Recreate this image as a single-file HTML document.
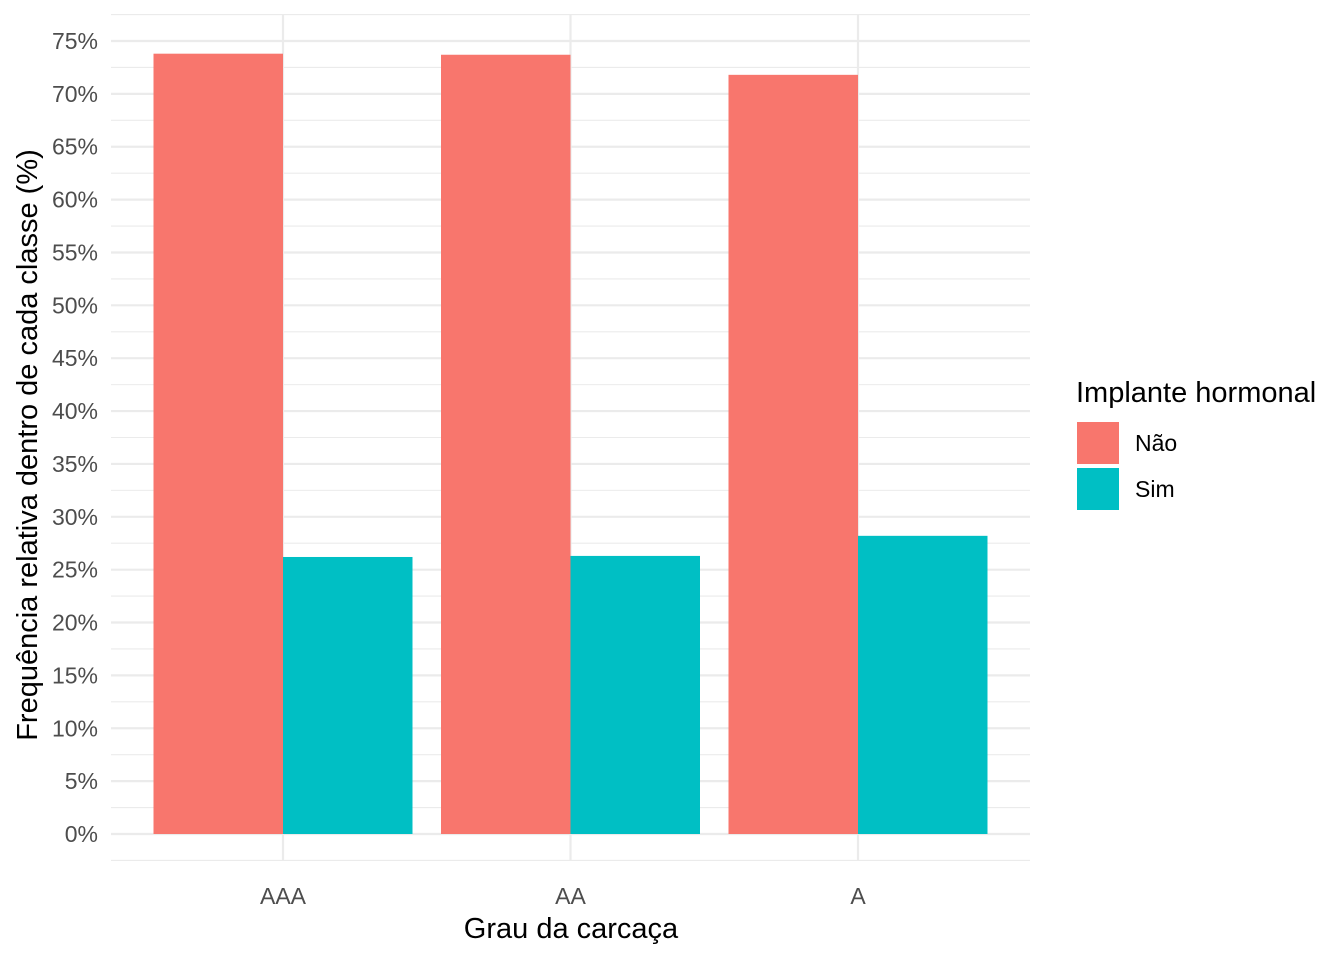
<!DOCTYPE html>
<html><head><meta charset="utf-8"><style>
html,body{margin:0;padding:0;background:#fff;}
svg text{font-family:"Liberation Sans",sans-serif;}
</style></head><body>
<svg id="chart" width="1344" height="960" xmlns="http://www.w3.org/2000/svg">
<g id="grid"></g><g id="bars"></g><g id="labels"></g>
<text x="571" y="938" font-size="29" text-anchor="middle" fill="#000">Grau da carcaça</text>
<text transform="translate(37,445) rotate(-90)" font-size="29" text-anchor="middle" fill="#000">Frequência relativa dentro de cada classe (%)</text>
<g>
<text x="1076" y="402" font-size="29" fill="#000">Implante hormonal</text>
<rect x="1077" y="422" width="42" height="42" fill="#F8766D"/>
<text x="1135" y="451" font-size="23" fill="#000">Não</text>
<rect x="1077" y="468" width="42" height="42" fill="#00BFC4"/>
<text x="1135" y="497" font-size="23" fill="#000">Sim</text>
</g>
</svg>
<script>
const categories = ["AAA","AA","A"];
const naoValues = [73.8, 73.7, 71.8];
const simValues = [26.2, 26.3, 28.2];
const yTicks = [0,5,10,15,20,25,30,35,40,45,50,55,60,65,70,75];
const NS="http://www.w3.org/2000/svg";
const y = v => 834 - v*(834-41)/75;
const x = i => 283 + i*287.5;
const bw = 129.5;
function mk(tag, attrs, parent){const e=document.createElementNS(NS,tag);for(const k in attrs)e.setAttribute(k,attrs[k]);parent.appendChild(e);return e;}
const grid=document.getElementById('grid'), bars=document.getElementById('bars'), labels=document.getElementById('labels');
for(let v=-2.5; v<=77.5; v+=5){
  const l=mk('line',{x1:111,x2:1030,y1:y(v),y2:y(v),stroke:'#ebebeb','stroke-width':1.1},grid);
  
  
}
yTicks.forEach(v=>{
  const l=mk('line',{x1:111,x2:1030,y1:y(v),y2:y(v),stroke:'#ebebeb','stroke-width':2.2},grid);
  
  
  const t=mk('text',{x:98,y:y(v)+8,'font-size':23,'text-anchor':'end',fill:'#4d4d4d'},labels);
  t.textContent=v+'%';
  
  
});
categories.forEach((c,i)=>{
  const l=mk('line',{x1:x(i),x2:x(i),y1:14,y2:861,stroke:'#ebebeb','stroke-width':2.2},grid);
  
  
  const b1=mk('rect',{x:x(i)-bw,y:y(naoValues[i]),width:bw,height:y(0)-y(naoValues[i]),fill:'#F8766D'},bars);
  
  
  const b2=mk('rect',{x:x(i),y:y(simValues[i]),width:bw,height:y(0)-y(simValues[i]),fill:'#00BFC4'},bars);
  
  
  const t=mk('text',{x:x(i),y:904,'font-size':23,'text-anchor':'middle',fill:'#4d4d4d'},labels);
  t.textContent=c;
  
  
});
</script>
</body></html>
